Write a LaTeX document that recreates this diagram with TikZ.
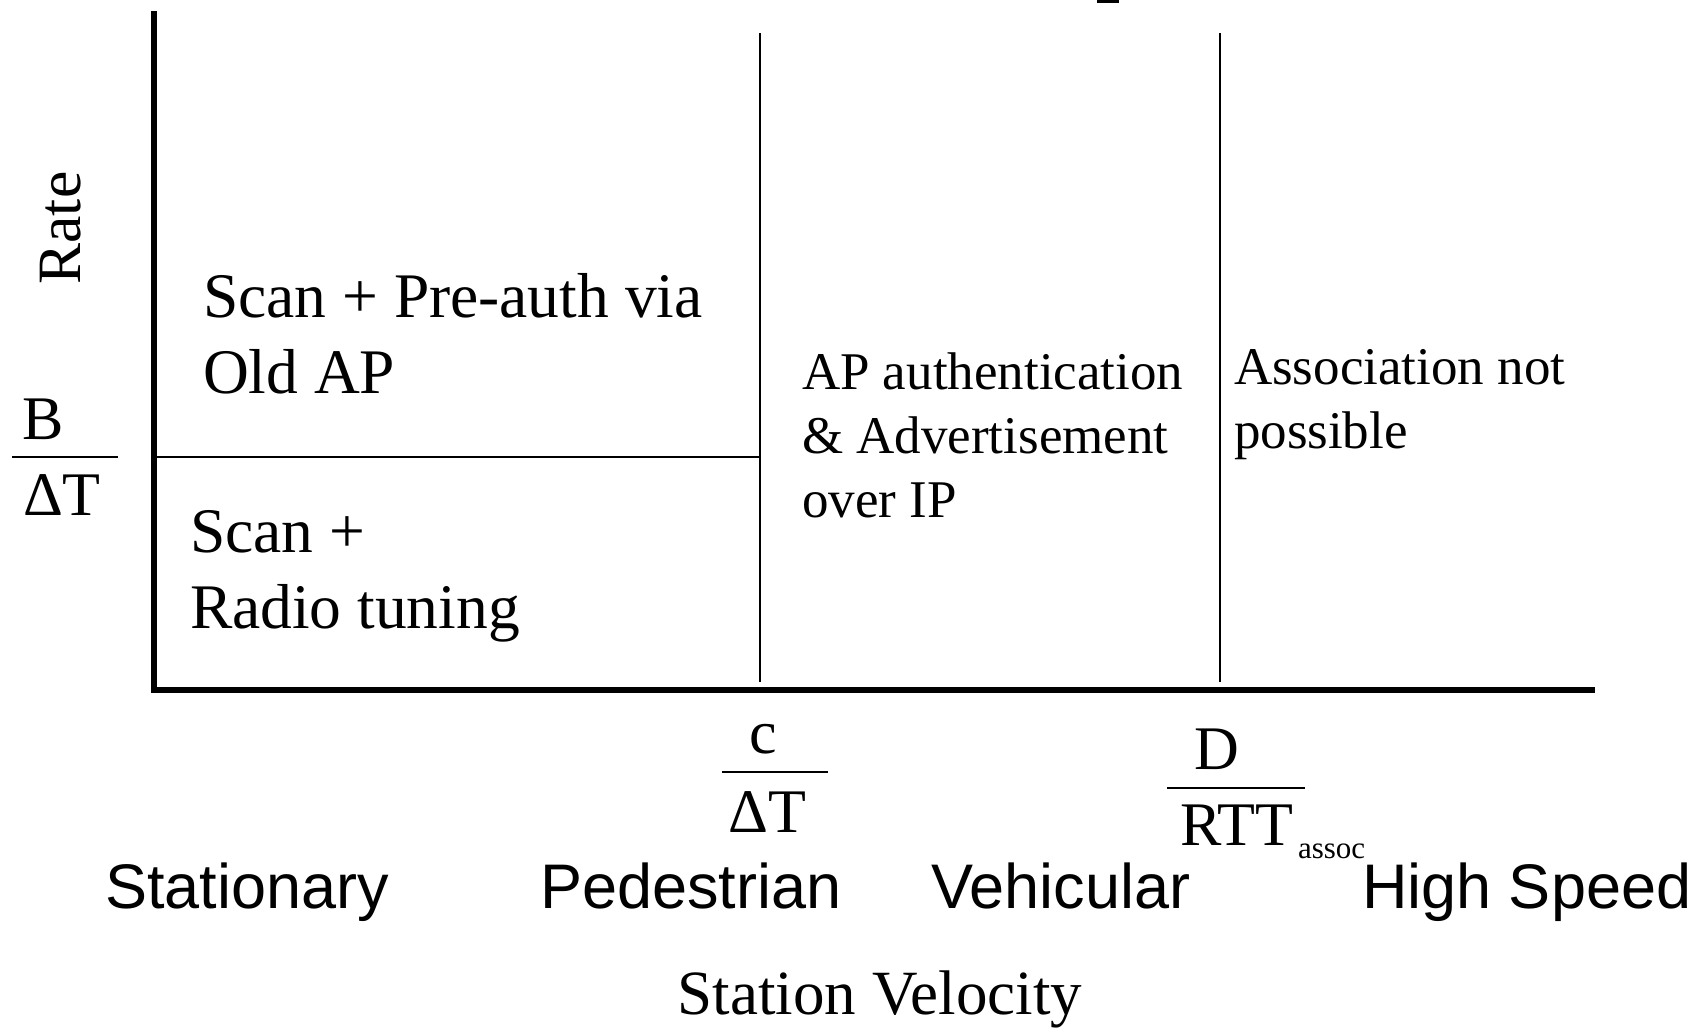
\documentclass[tikz,border=0pt]{standalone}
\usepackage{fontspec}
\setmainfont{Liberation Serif}
\newfontfamily\arialfont{Liberation Sans}
\usetikzlibrary{positioning}

\begin{document}
\begin{tikzpicture}[x=1pt, y=-1pt,
  every node/.style={inner sep=0pt, outer sep=0pt},
  region/.style={anchor=base west, align=left, font=\fontsize{63.5}{76}\selectfont},
  smallregion/.style={anchor=base west, align=left, font=\fontsize{53}{64}\selectfont},
  speed/.style={anchor=base west, font=\arialfont\fontsize{63}{76}\selectfont},
  fracpart/.style={anchor=base, font=\fontsize{62}{74}\selectfont},
  axis/.style={line width=6.5pt},
  border/.style={line width=1.6pt},
  fracrule/.style={line width=2pt}]
\useasboundingbox (0,0) rectangle (1704,1031);
% axes and region borders
\coordinate (origin) at (154,690);
\draw[axis] (154,11) -- (origin) -- (1595,690);
\draw[border] (760,33) -- (760,682);
\draw[border] (1220,33) -- (1220,682);
\draw[border] (154,457) -- (760,457);
\fill (1097,0) rectangle (1119,2.5);
% y axis label
\node[rotate=90, font=\fontsize{61.6}{74}\selectfont] (rate) at (61,228) {Rate};
\node[fracpart] (bnum) at (43,439) {B};
\node[fracpart] (bden) at (62,515) {ΔT};
\draw[fracrule] (12,457) -- (118,457);
% regions (base = last line)
\node[region] (preauth) at (203,393) {Scan + Pre-auth via\\Old AP};
\node[region] (tuning) at (190,628) {Scan +\\Radio tuning};
\node[smallregion] (apauth) at (802,517) {AP authentication\\\& Advertisement\\over IP};
\node[smallregion] (noassoc) at (1234,448) {Association not\\possible};
% velocity thresholds
\node[fracpart] (cnum) at (763,753) {c};
\node[fracpart] (cden) at (767,832) {ΔT};
\draw[fracrule] (722,772) -- (828,772);
\node[fracpart] (dnum) at (1217,769) {D};
\node[fracpart, anchor=base west] (dden) at (1180,845) {RTT};
\node[anchor=base west, font=\fontsize{31}{37}\selectfont] (sub) at (1298,858) {assoc};
\draw[fracrule] (1167,788) -- (1305,788);
% speed classes
\node[speed] (stationary) at (105,908) {Stationary};
\node[speed] (pedestrian) at (540,908) {Pedestrian};
\node[speed] (vehicular) at (931,908) {Vehicular};
\node[speed] (highspeed) at (1362,908) {High Speed};
\node[anchor=base, font=\fontsize{63}{76}\selectfont] (velocity) at (880,1014) {Station Velocity};
\end{tikzpicture}
\end{document}
